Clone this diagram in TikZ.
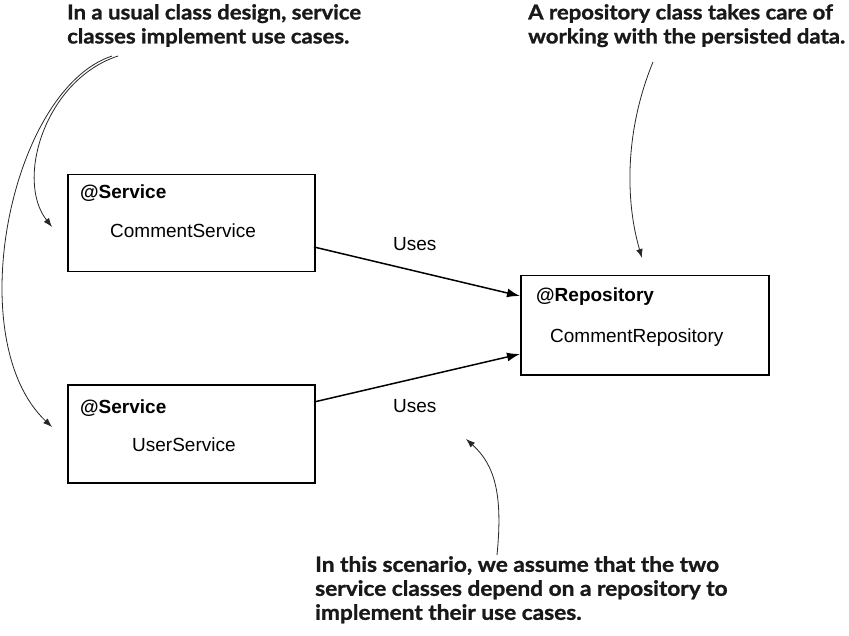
\documentclass[tikz,border=0pt]{standalone}
\usepackage{fontspec}
\setmainfont{Lato}
\newfontfamily\notefont[FakeStretch=1.08,BoldFeatures={FakeBold=1.2}]{Lato}
\newfontfamily\boxfont{Liberation Sans}
\usetikzlibrary{arrows.meta}
\tikzset{
  classbox/.style={draw=black, line width=1.5pt, rectangle, inner sep=0pt, anchor=north west},
  boxtitle/.style={font=\boxfont\fontsize{19}{23}\selectfont\bfseries, inner sep=0pt, anchor=base west},
  boxname/.style={font=\boxfont\fontsize{19}{23}\selectfont, inner sep=0pt, anchor=base west},
  uses/.style={draw=black, line width=1.5pt, -{Latex[length=13pt,width=9pt]}},
  useslabel/.style={font=\boxfont\fontsize{19}{23}\selectfont, inner sep=0pt, anchor=base west},
  note/.style={font=\notefont\fontsize{20.5}{24}\selectfont\bfseries, inner sep=0pt, anchor=north west, align=left, text=black!90},
  callout/.style={draw=black!85, line width=0.8pt, -{Latex[length=9pt,width=6.5pt]}},
}
\begin{document}
\begin{tikzpicture}[x=1pt,y=-1pt]
\useasboundingbox (0,0) rectangle (849,636);
% boxes
\node[classbox, minimum width=247pt, minimum height=97pt] (cs) at (67,174) {};
\node[classbox, minimum width=247pt, minimum height=98pt] (us) at (67,384) {};
\node[classbox, minimum width=248pt, minimum height=99pt] (cr) at (520,275) {};
% box texts
\node[boxtitle] (cst) at (80,199) {@Service};
\node[boxname] (csn) at (110,238) {CommentService};
\node[boxtitle] (ust) at (80,413) {@Service};
\node[boxname] (usn) at (132,451) {UserService};
\node[boxtitle] (crt) at (536,302) {@Repository};
\node[boxname] (crn) at (550,343) {CommentRepository};
% uses arrows
\coordinate (a1s) at (314,247);
\coordinate (a1e) at (520,296);
\coordinate (a2s) at (314,402);
\coordinate (a2e) at (520,354);
\draw[uses] (a1s) -- (a1e);
\draw[uses] (a2s) -- (a2e);
\node[useslabel] (u1) at (393,251) {Uses};
\node[useslabel] (u2) at (393,412) {Uses};
% notes
\node[note] (n1) at (67,4) {In a usual class design, service\\classes implement use cases.};
\node[note] (n2) at (528,4) {A repository class takes care of\\working with the persisted data.};
\node[note, font=\notefont\fontsize{21}{24}\selectfont\bfseries] (n3) at (315,556) {In this scenario, we assume that the two\\service classes depend on a repository to\\implement their use cases.};
% callouts
\coordinate (c1s) at (118,56);
\coordinate (c1e) at (52,227);
\coordinate (c2s) at (112,56);
\coordinate (c2e) at (52,427);
\coordinate (c3s) at (653,62);
\coordinate (c3e) at (642,258);
\coordinate (c4s) at (497,555);
\coordinate (c4e) at (466,439);
\draw[callout] (c1s) .. controls (45,80) and (15,180) .. (c1e);
\draw[callout] (c2s) .. controls (10,90) and (-40,340) .. (c2e);
\draw[callout] (c3s) .. controls (625,130) and (625,200) .. (c3e);
\draw[callout] (c4s) .. controls (503,495) and (495,465) .. (c4e);
\end{tikzpicture}
\end{document}
